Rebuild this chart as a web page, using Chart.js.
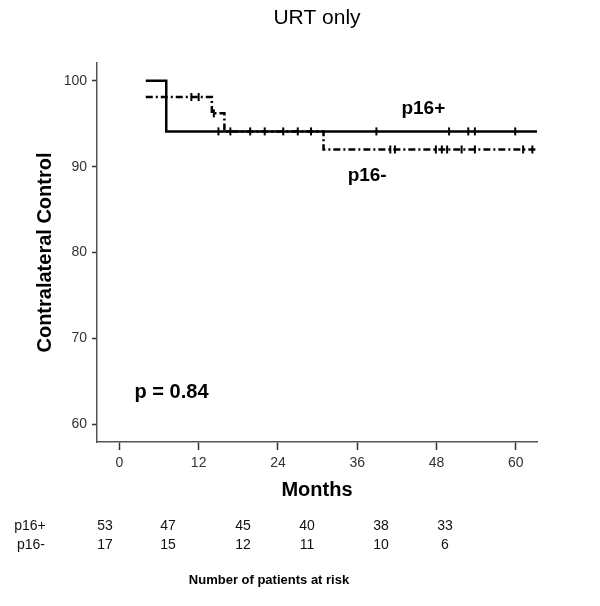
<!DOCTYPE html>
<html>
<head>
<meta charset="utf-8">
<script src="https://cdn.jsdelivr.net/npm/chart.js@4/dist/chart.umd.min.js"></script>
<style>
  body { margin: 0; background: #fff; }
  #wrap { width: 600px; height: 606px; }
</style>
</head>
<body>
<div id="wrap"><canvas id="km_Chart" width="600" height="606"></canvas></div>
<script>
// Kaplan-Meier steps (months, % controlled)
const pos_months = [4, 7.1, 63.2]
const pos_values = [100, 94.1, 94.1]
const neg_months = [4, 14.0, 15.9, 30.9, 63.2]
const neg_values = [98.1, 96.2, 94.1, 92.0, 92.0]

// censored observations
const pos_censor_months = [15.0, 19.8, 24.8, 29.0, 38.9, 49.9, 52.8, 53.8, 59.9]
const pos_censor_values = [94.1, 94.1, 94.1, 94.1, 94.1, 94.1, 94.1, 94.1, 94.1]
const neg_censor_months = [10.9, 12.0, 14.3, 16.8, 22.0, 27.0, 41.0, 41.7, 47.9, 48.8, 49.6, 51.8, 53.8, 61.1, 62.5]
const neg_censor_values = [98.1, 98.1, 96.2, 94.1, 94.1, 94.1, 92.0, 92.0, 92.0, 92.0, 92.0, 92.0, 92.0, 92.0, 92.0]

const x_ticks = [0, 12, 24, 36, 48, 60]
const y_ticks = [60, 70, 80, 90, 100]

// numbers at risk table
const risk_groups = ['p16+', 'p16-']
const risk_pos = [53, 47, 45, 40, 38, 33]
const risk_neg = [17, 15, 12, 11, 10, 6]

const to_points = (xs, ys) => xs.map((x, i) => ({x: x, y: ys[i]}))

const FONT = "'Liberation Sans', Arial, sans-serif"
const AXIS_COLOR = '#555555'
const TICK_COLOR = '#333333'

const censor_style = {
    type: 'scatter',
    showLine: false,
    pointStyle: 'line',
    rotation: 90,
    pointRadius: 4,
    pointHoverRadius: 4,
    borderColor: '#000',
    borderWidth: 2,
    pointBorderWidth: 2
}

// titles, curve labels, p value and the at-risk table
const text_plugin = {
    id: 'km_text',
    afterDraw(chart) {
        const ctx = chart.ctx
        const area = chart.chartArea
        const xs = chart.scales.x
        const ys = chart.scales.y
        ctx.save()
        ctx.fillStyle = '#000'
        ctx.textAlign = 'center'
        ctx.textBaseline = 'middle'

        ctx.font = `21px ${FONT}`
        ctx.fillText('URT only', (area.left + area.right) / 2, 18)

        ctx.font = `bold 19px ${FONT}`
        ctx.fillText('p16+', xs.getPixelForValue(46.0), ys.getPixelForValue(96.7))
        ctx.fillText('p16-', xs.getPixelForValue(37.5), ys.getPixelForValue(88.9))

        ctx.font = `bold 20px ${FONT}`
        ctx.fillText('p = 0.84', xs.getPixelForValue(7.9), ys.getPixelForValue(63.7))

        // table columns are laid out independently of the axis
        const col_x = [105, 168, 243, 307, 381, 445]
        const row_y = [526, 545]
        ctx.fillStyle = '#111'
        ctx.font = `14px ${FONT}`
        ctx.fillText(risk_groups[0], 30, row_y[0])
        ctx.fillText(risk_groups[1], 31, row_y[1])
        col_x.forEach((cx, i) => {
            ctx.fillText(String(risk_pos[i]), cx, row_y[0])
            ctx.fillText(String(risk_neg[i]), cx, row_y[1])
        })

        ctx.fillStyle = '#000'
        ctx.font = `bold 13px ${FONT}`
        ctx.fillText('Number of patients at risk', 269, 580)
        ctx.restore()
    }
}

const ctx = document.getElementById('km_Chart').getContext('2d')
const km_chart = new Chart(ctx, {
    type: 'line',
    data: {
        datasets: [
            {
                label: 'p16+',
                data: to_points(pos_months, pos_values),
                stepped: true,
                borderColor: '#000',
                borderWidth: 2.5,
                pointRadius: 0
            },
            {
                label: 'p16-',
                data: to_points(neg_months, neg_values),
                stepped: true,
                borderColor: '#000',
                borderWidth: 2.5,
                borderDash: [7, 3, 2, 3],
                pointRadius: 0
            },
            Object.assign({label: 'p16+ censored', data: to_points(pos_censor_months, pos_censor_values)}, censor_style),
            Object.assign({label: 'p16- censored', data: to_points(neg_censor_months, neg_censor_values)}, censor_style)
        ]
    },
    options: {
        responsive: false,
        devicePixelRatio: 1,
        animation: false,
        layout: {padding: {top: 63, right: 63, bottom: 104, left: 0}},
        plugins: {
            legend: {display: false},
            title: {display: false},
            tooltip: {enabled: false}
        },
        scales: {
            x: {
                type: 'linear',
                min: -3.38,
                max: 63.2,
                afterBuildTicks: scale => { scale.ticks = x_ticks.map(v => ({value: v})) },
                afterFit: scale => { scale.height = 60 },
                grid: {drawOnChartArea: false, drawTicks: true, tickLength: 8, tickColor: TICK_COLOR, tickWidth: 1.5, color: AXIS_COLOR},
                border: {display: true, color: AXIS_COLOR, width: 1.5},
                ticks: {font: {family: FONT, size: 14}, color: TICK_COLOR, padding: 5, maxRotation: 0},
                title: {display: true, text: 'Months', color: '#000', font: {family: FONT, size: 20, weight: 'bold'}, padding: {top: 0, bottom: 0}}
            },
            y: {
                type: 'linear',
                min: 57.96,
                max: 102.06,
                afterBuildTicks: scale => { scale.ticks = y_ticks.map(v => ({value: v})) },
                afterFit: scale => { scale.width = 97 },
                grid: {drawOnChartArea: false, drawTicks: true, tickLength: 5, tickColor: TICK_COLOR, tickWidth: 1.5, color: AXIS_COLOR},
                border: {display: true, color: AXIS_COLOR, width: 1.5},
                ticks: {font: {family: FONT, size: 14}, color: TICK_COLOR, padding: 5},
                title: {display: true, text: 'Contralateral Control', color: '#000', font: {family: FONT, size: 20, weight: 'bold'}, padding: {top: 33, bottom: 0}}
            }
        }
    },
    plugins: [text_plugin]
})
</script>
</body>
</html>
